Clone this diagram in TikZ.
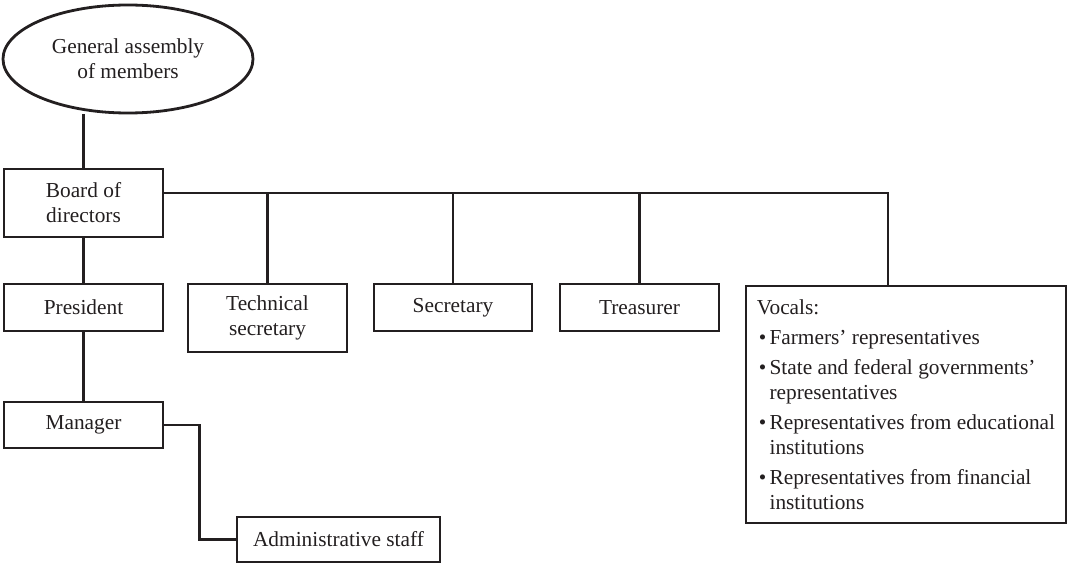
\documentclass[tikz,border=0pt]{standalone}
\usepackage{fontspec}
\setmainfont{Liberation Serif}
\usetikzlibrary{shapes.geometric,backgrounds}
\definecolor{ink}{HTML}{231F20}
\newcommand{\bul}{\makebox[9.5pt][l]{\hspace{1.5pt}\textbullet}}
\begin{document}
\begin{tikzpicture}[x=0.75pt,y=-0.75pt,
  box/.style={draw=ink,line width=2.1pt,fill=white,inner sep=0pt,align=center,
    font=\fontsize{16}{18.75}\selectfont,text=ink},
  conn/.style={draw=ink,line width=2.1pt}]
\useasboundingbox (0,0) rectangle (1068,563);
\node[box,ellipse,minimum width=187.5pt,minimum height=81pt] (ell) at (128,59) {General assembly\\of members};
\node[box,minimum width=119.25pt,minimum height=51pt] (board) at (83.5,203) {Board of\\directors};
\node[box,minimum width=119.25pt,minimum height=35.25pt] (pres) at (83.5,307.5) {President};
\node[box,minimum width=119.25pt,minimum height=51pt] (tech) at (267.5,318) {Technical\\secretary};
\node[box,minimum width=118.5pt,minimum height=35.25pt] (sec) at (453,307.5) {Secretary};
\node[box,minimum width=119.25pt,minimum height=35.25pt] (treas) at (639.5,307.5) {Treasurer};
\node[box,minimum width=119.25pt,minimum height=34.5pt] (mgr) at (83.5,425) {Manager};
\node[box,minimum width=152.25pt,minimum height=33.75pt] (admin) at (338.5,539.5) {Administrative staff};
\node[box,align=left,minimum width=240pt,minimum height=177.75pt] (voc) at (906,404.5)
 {Vocals:\\[3.75pt]
  \bul Farmers' representatives\\[3.75pt]
  \bul State and federal governments'\\
  \hspace*{9.5pt}representatives\\[3.75pt]
  \bul Representatives from educational\\
  \hspace*{9.5pt}institutions\\[3.75pt]
  \bul Representatives from financial\\
  \hspace*{9.5pt}institutions};
\coordinate (bus) at ([yshift=7.5pt]board.east);
\coordinate (vtop) at ([xshift=-13.5pt]voc.north);
\begin{pgfonlayer}{background}
\draw[conn] (board.north) -- (board.north |- ell.south);
\draw[conn] (bus) -| (vtop);
\draw[conn] (tech.north) -- (tech.north |- bus);
\draw[conn] (sec.north) -- (sec.north |- bus);
\draw[conn] (treas.north) -- (treas.north |- bus);
\draw[conn] (board.south) -- (pres.north);
\draw[conn] (pres.south) -- (mgr.north);
\draw[conn] (mgr.east) -- ++(35,0) |- (admin.west);
\end{pgfonlayer}
\end{tikzpicture}
\end{document}
